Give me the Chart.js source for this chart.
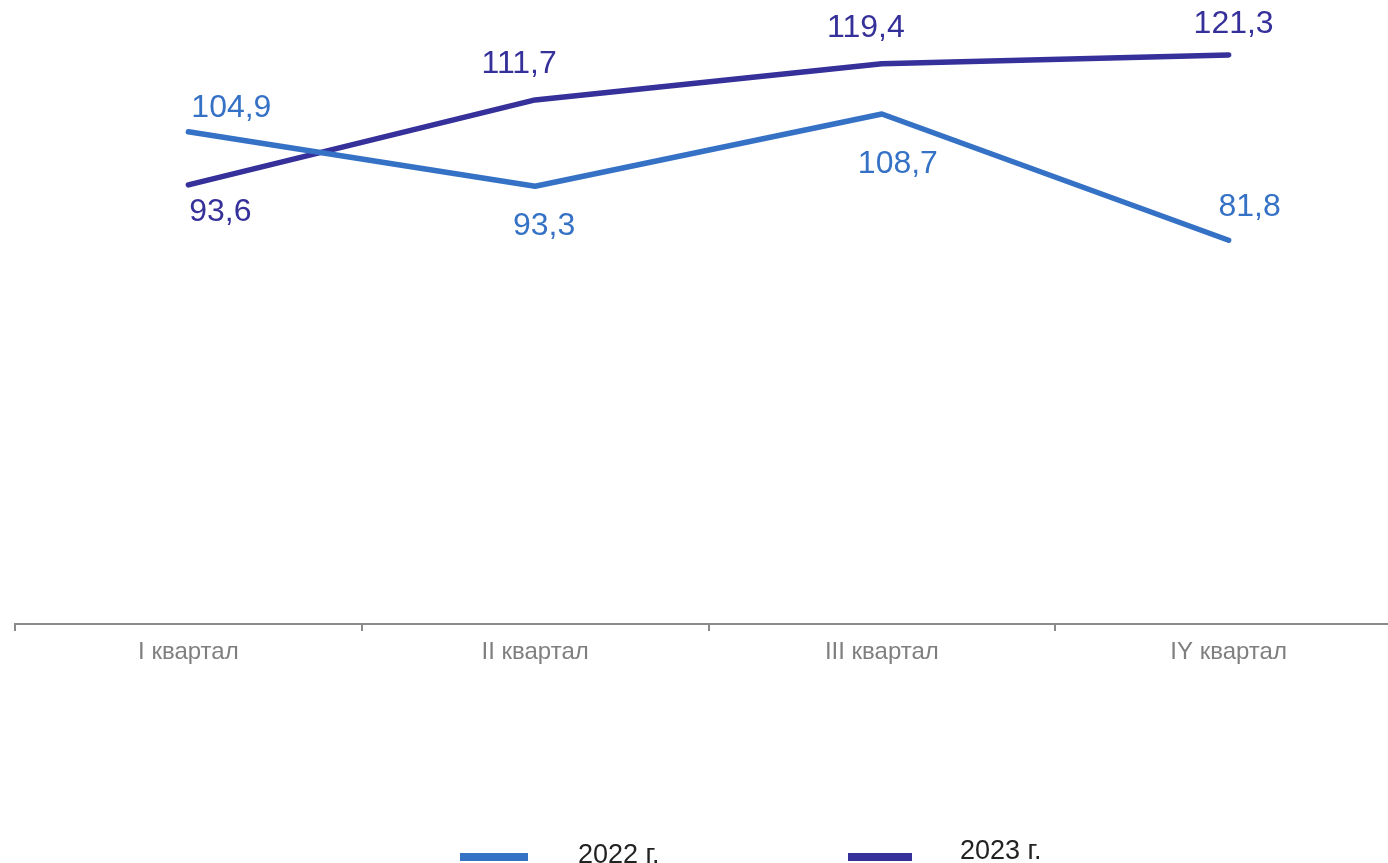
<!DOCTYPE html>
<html>
<head>
<meta charset="utf-8">
<script src="https://cdn.jsdelivr.net/npm/chart.js@4/dist/chart.umd.min.js"></script>
<style>
html,body{margin:0;padding:0;background:#fff;overflow:hidden;}
#wrap{position:relative;width:1402px;height:863px;}
</style>
</head>
<body>
<div id="wrap"><canvas id="c"></canvas></div>
<script>
const categories = ['I квартал', 'II квартал', 'III квартал', 'IY квартал'];
const seriesNames = ['2022 г.', '2023 г.'];
const values2022 = [104.9, 93.3, 108.7, 81.8];
const values2023 = [93.6, 111.7, 119.4, 121.3];

const colors = ['#3572C6', '#35309A'];
// label offsets relative to each point (style only)
const labelOffsets = [
  [[43,-24],[9,40],[16,50],[21,-33]],
  [[32,27],[-16,-36],[-16,-36],[5,-31]]
];

const fmt = v => v.toFixed(1).replace('.', ',');

const labelPlugin = {
  id: 'pointLabels',
  afterDatasetsDraw(chart) {
    const ctx = chart.ctx;
    ctx.save();
    ctx.font = '32px "Liberation Sans", Arial, sans-serif';
    ctx.textAlign = 'center';
    ctx.textBaseline = 'middle';
    chart.data.datasets.forEach((ds, di) => {
      const meta = chart.getDatasetMeta(di);
      ctx.fillStyle = ds.borderColor;
      meta.data.forEach((pt, i) => {
        const o = labelOffsets[di][i];
        ctx.fillText(fmt(ds.data[i]), pt.x + o[0], pt.y + o[1]);
      });
    });
    ctx.restore();
  }
};

const legendPlugin = {
  id: 'customLegend',
  afterDraw(chart) {
    const ctx = chart.ctx;
    ctx.save();
    const items = [
      {lx: 460, lw: 68, tx: 578, ty: 856},
      {lx: 848, lw: 64, tx: 960, ty: 852}
    ];
    ctx.font = '27px "Liberation Sans", Arial, sans-serif';
    ctx.textBaseline = 'middle';
    ctx.textAlign = 'left';
    chart.data.datasets.forEach((ds, i) => {
      const it = items[i];
      ctx.fillStyle = ds.borderColor;
      ctx.fillRect(it.lx, 853, it.lw, 8);
      ctx.fillStyle = '#222';
      ctx.fillText(ds.label, it.tx, it.ty);
    });
    ctx.restore();
  }
};

new Chart(document.getElementById('c'), {
  type: 'line',
  data: {
    labels: categories,
    datasets: [
      {label: seriesNames[0], data: values2022, borderColor: colors[0], backgroundColor: colors[0]},
      {label: seriesNames[1], data: values2023, borderColor: colors[1], backgroundColor: colors[1]}
    ]
  },
  options: {
    responsive: true,
    maintainAspectRatio: false,
    animation: false,
    layout: {padding: {left: 15, right: 0, top: 0, bottom: 0}},
    elements: {
      line: {borderWidth: 5.5, borderCapStyle: 'round', borderJoinStyle: 'round', tension: 0},
      point: {radius: 0, hoverRadius: 0}
    },
    plugins: {legend: {display: false}, tooltip: {enabled: false}},
    scales: {
      x: {
        offset: true,
        grid: {offset: true, drawOnChartArea: false, drawTicks: true, tickLength: 7, color: '#8a8a8a', lineWidth: 2},
        border: {display: true, color: '#8a8a8a', width: 2},
        ticks: {color: '#7f7f7f', font: {family: '"Liberation Sans", Arial, sans-serif', size: 24}, padding: 7, maxRotation: 0},
        afterFit(scale) { scale.height = 239; }
      },
      y: {
        display: false,
        min: 0,
        max: 133
      }
    }
  },
  plugins: [labelPlugin, legendPlugin]
});
</script>
</body>
</html>
